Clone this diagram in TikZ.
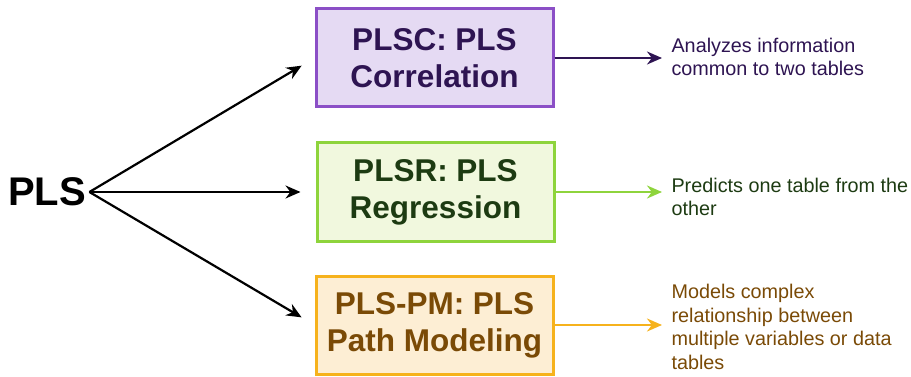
\documentclass[tikz,border=0pt]{standalone}
\usepackage{fontspec}
\setmainfont{Liberation Sans}
\usepackage{xcolor}
\usetikzlibrary{arrows.meta, positioning}

\definecolor{plscline}{HTML}{8B4FC6}
\definecolor{plscfill}{HTML}{E5DAF3}
\definecolor{plsctext}{HTML}{2E1452}
\definecolor{plsrline}{HTML}{8ED43C}
\definecolor{plsrfill}{HTML}{F1F8DE}
\definecolor{plsrtext}{HTML}{1D3B12}
\definecolor{plspmline}{HTML}{F6B21C}
\definecolor{plspmfill}{HTML}{FDEED4}
\definecolor{plspmtext}{HTML}{7A4A06}

\begin{document}
\begin{tikzpicture}[x=1pt, y=-1pt, >={Stealth[length=15pt, width=13pt]},
    method/.style={draw, line width=3pt, minimum width=237pt, minimum height=98pt,
        align=center, font=\fontsize{31.5}{37}\selectfont\bfseries},
    desc/.style={anchor=west, align=left, font=\fontsize{19.8}{23.5}\selectfont}]
    \useasboundingbox (0,0) rectangle (911,377);

    % Nodes
    \node (pls) [font=\fontsize{40}{40}\selectfont\bfseries] at (47,192) {PLS};
    \node (plsc) [method, draw=plscline, fill=plscfill, text=plsctext] at (434.5,58) {PLSC: PLS\\Correlation};
    \node (plsr) [method, draw=plsrline, fill=plsrfill, text=plsrtext] at (435.5,192) {PLSR: PLS\\Regression};
    \node (plspm) [method, draw=plspmline, fill=plspmfill, text=plspmtext] at (434.5,325) {PLS-PM: PLS\\Path Modeling};

    % Descriptions
    \node (dc) [desc, text=plsctext] at (668,57) {Analyzes information\\common to two tables};
    \node (dr) [desc, text=plsrtext] at (668,197) {Predicts one table from the\\other};
    \node (dpm) [desc, text=plspmtext] at (668,327) {Models complex\\relationship between\\multiple variables or data\\tables};

    % Edges from PLS
    \draw[->, line width=2.2pt] (pls.east) -- (plsc.west) [shorten >=15pt];
    \draw[->, line width=2.2pt] (pls.east) -- (plsr.west) [shorten >=15pt];
    \draw[->, line width=2.2pt] (pls.east) -- (plspm.west) [shorten >=15pt];

    % Edges to descriptions
    \draw[->, line width=2.2pt, draw=plsctext, fill=plsctext] (plsc.east) -- (plsc.east -| dc.west) [shorten >=6pt];
    \draw[->, line width=2.2pt, draw=plsrline, fill=plsrline] (plsr.east) -- (plsr.east -| dr.west) [shorten >=6pt];
    \draw[->, line width=2.2pt, draw=plspmline, fill=plspmline] (plspm.east) -- (plspm.east -| dpm.west) [shorten >=6pt];
\end{tikzpicture}
\end{document}
